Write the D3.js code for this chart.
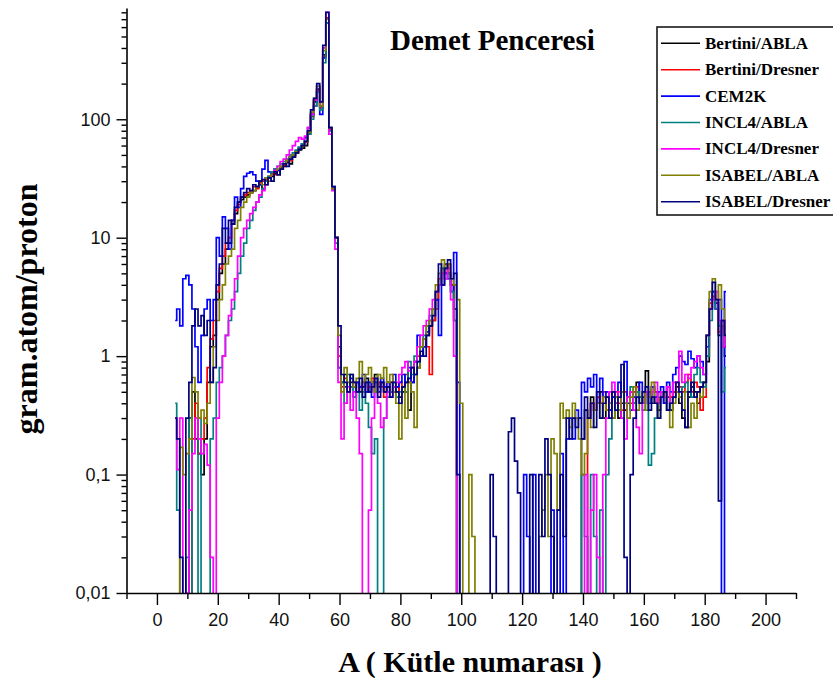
<!DOCTYPE html>
<html><head><meta charset="utf-8">
<script src="https://cdn.jsdelivr.net/npm/d3@7/dist/d3.min.js"></script>
<style>
body{margin:0;background:#fff}
svg{display:block}
.tick text{font-family:"Liberation Sans",Arial,sans-serif;font-size:18px;fill:#111}
</style>
</head><body>
<svg id="chart" width="833" height="690"></svg>
<script>
// Mass numbers A = 6 .. 187 (one value per A)
const firstA = 6;
const seriesNames = ["Bertini/ABLA","Bertini/Dresner","CEM2K","INCL4/ABLA","INCL4/Dresner","ISABEL/ABLA","ISABEL/Dresner"];
const seriesColors = ["#000000","#ff0000","#0000ff","#008080","#ff00ff","#808000","#000080"];
const xTickValues = [0,20,40,60,80,100,120,140,160,180,200];
const xMinorTicks = [-10,10,30,50,70,90,110,130,150,170,190,210];
const yTickValues = [0.01,0.1,1,10,100];
const yTickLabels = ["0,01","0,1","1","10","100"];

const bertiniABLA = [
 0,0,0,0,0,0.3,0.5,0.2,0.15,0.1,
 0.2,0.6,1.2,1.5,3,5,6,8,9,13,
 16,20,21,22,23,24,25,27,28,26,
 30,32,33,35,34,38,40,43,42,48,
 52,55,57,60,75,110,140,180,130,350,
 700,80,26,10,1.2,0.6,0.7,0.5,0.6,0.55,
 0.6,0.5,0.55,0.65,0.5,0.6,0.7,0.55,0.6,0.5,
 0.55,0.6,0.5,0.55,0.45,0.5,0.6,0.35,0.6,0.7,
 0.8,1.0,1.2,1.5,1.8,2.0,3.0,4.0,5.0,6.0,
 5.0,4.0,2.5,0,0,0,0,0,0,0,
 0,0,0,0,0,0,0,0,0,0,
 0,0,0,0,0,0,0,0,0,0,
 0,0,0,0,0,0,0,0,0,0,
 0,0,0,0,0.2,0.35,0.3,0.45,0.35,0.4,
 0.5,0.3,0.45,0.35,0.5,0.45,0.3,0.4,0.35,0.45,
 0.5,0.4,0.6,0.4,0.45,0.75,0.5,0.4,0.45,0.35,
 0.5,0.4,0.45,0.35,0.5,0.55,0.4,0.3,0.25,0.45,
 0.55,0.5,0.4,0.55,0.6,0.9,2.5,3.5,2.8,1.5,
 2.0,1.0];

const bertiniDresner = [
 0,0,0,0,0,0,0.2,0.4,0.15,0.2,
 0.3,0.8,1.4,2,3.5,5.5,7,9,10,14,
 17,19,22,23,24,25,27,26,29,30,
 31,33,35,34,37,39,41,44,45,50,
 53,56,60,64,78,105,145,175,125,340,
 720,82,26,10,1.0,0.55,0.65,0.5,0.55,0.6,
 0.5,0.55,0.6,0.5,0.55,0.65,0.5,0.6,0.55,0.45,
 0.6,0.5,0.55,0.5,0.6,0.55,0.7,0.6,0.8,0.9,
 1.0,1.2,1.4,1.2,0.7,2.0,2.5,4.5,5.5,5.0,
 6.0,4.0,2.0,0,0,0,0,0,0,0,
 0,0,0,0,0,0,0,0,0,0,
 0,0,0,0,0,0,0,0,0,0,
 0,0,0,0,0,0,0,0,0,0,
 0,0,0,0,0,0,0.3,0.4,0.35,0.45,
 0.4,0.5,0.35,0.4,0.45,0.5,0.4,0.35,0.5,0.45,
 0.4,0.5,0.55,0.45,0.4,0.5,0.45,0.55,0.5,0.4,
 0.45,0.5,0.55,0.45,0.5,0.6,0.55,0.5,0.6,0.7,
 0.5,0.6,0.55,0.35,0.45,1.0,2.8,3.2,2.5,1.6,
 1.8,1.2];

const cem2k = [
 2.0,2.5,1.8,4.5,4.8,4.0,2.5,1.2,0.6,1.5,
 2.5,3.0,2.0,3.0,10,7,15,12,8,14,
 22,18,26,33,35,36,34,30,28,38,
 45,36,34,38,37,40,42,45,48,50,
 54,58,62,70,85,110,130,170,110,330,
 650,85,27,10,0.8,0.6,0.55,0.5,0.65,0.45,
 0.6,0.55,0.7,0.5,0.6,0.45,0.6,0.5,0.65,0.55,
 0.6,0.5,0.7,0.55,0.6,0.7,0.5,0.8,0.6,0.9,
 1.5,1.0,1.2,1.6,2.0,2.5,3.0,1.5,4.0,5.0,
 4.5,3.5,7.5,0.6,0,0,0,0,0,0,
 0,0,0,0,0,0,0,0,0,0,
 0,0,0,0,0,0.1,0.03,0,0.1,0,
 0,0,0,0,0.05,0,0,0.15,0,0.2,
 0.3,0.2,0.35,0.3,0.6,0.5,0.65,0.55,0.7,0.4,
 0.65,0.45,0.5,0.35,0.45,0.4,0.6,0.5,0.9,0.4,
 0.35,0.45,0.5,0.6,0.4,0.5,0.4,0.55,0.45,0.5,
 0.55,0.4,0.6,0.5,0.7,0.8,1.0,0.9,0.85,1.1,
 0.95,0.8,1.0,0.9,0.7,1.2,3.0,3.5,2.5,3.0,
 0,3.5];

const incl4ABLA = [
 0.4,0.05,0,0,0.02,0.3,0,0,0.3,0,
 0,0,0.2,0.3,0.6,0.8,1.0,1.5,2.0,2.5,
 3.5,5,7,9,12,14,17,20,22,26,
 30,33,36,38,40,42,44,46,50,52,
 55,58,62,65,75,100,130,170,120,300,
 650,80,26,9,0.8,0.6,0.4,0.7,0.55,0.45,
 0.5,0.35,0.5,0.4,0.25,0.15,0.2,0,0,0.3,
 0.45,0.5,0.6,0.45,0.5,0.55,0.5,0.9,0.7,1.0,
 0.9,1.2,1.5,1.8,2.2,2.5,3.5,4.0,5.5,4.5,
 5.0,3.5,2.0,0,0,0,0,0,0,0,
 0,0,0,0,0,0,0,0,0,0,
 0,0,0,0,0,0,0,0,0,0,
 0,0,0,0,0,0,0,0,0,0,
 0,0,0,0,0.1,0.03,0,0.1,0.03,0,
 0.05,0,0.1,0.2,0.3,0.4,0.35,0.5,0.4,0.45,
 0.55,0.4,0.5,0.45,0.35,0.5,0.12,0.15,0.3,0.4,
 0.45,0.5,0.35,0.4,0.45,0.5,0.45,0.55,0.6,0.5,
 0.45,0.7,0.8,0.6,0.55,1.0,2.0,3.0,2.5,1.8,
 0.5,0.8];

const incl4Dresner = [
 0.3,0.11,0.3,0,0.01,0.05,0.15,0.3,0.2,0.15,
 0.18,0.12,0.02,0,0.3,0.6,1.0,1.5,2.2,3.0,
 4.5,7,10,12,14,16,18,20,23,25,
 28,32,34,37,40,44,46,50,55,60,
 65,70,68,72,85,110,145,190,130,400,
 800,75,25,8,0.6,0.2,0.4,0.55,0.35,0.5,
 0.3,0.15,0,0,0.05,0.3,0.5,0.4,0.25,0.3,
 0.5,0.45,0.55,0.6,0.7,0.8,0.9,0.75,0.8,0.9,
 1.2,1.5,1.8,2.0,2.5,3.0,3.5,4.0,5.0,4.5,
 5.5,3.0,1.0,0,0,0,0,0,0,0,
 0,0,0,0,0,0,0,0,0,0,
 0,0,0,0,0,0,0,0,0,0,
 0,0,0,0,0,0,0,0,0,0,
 0,0,0,0,0,0.1,0,0.05,0.1,0.02,
 0,0.1,0.3,0.5,0.6,0.4,0.5,0.3,0.2,0.45,
 0.5,0.35,0.25,0.15,0.4,0.5,0.45,0.5,0.6,0.4,
 0.5,0.45,0.55,0.4,0.6,0.5,1.1,0.6,0.7,0.65,
 0.8,0.9,1.0,0.8,0.7,1.5,2.5,3.0,3.5,2.0,
 1.2,2.0];

const isabelABLA = [
 0,0,0.17,0.1,0.15,0.2,0.66,0.5,0.3,0.35,
 0.27,0.4,0.6,1.2,2,3,4,6,7,8,
 12,14,18,20,22,24,25,27,30,28,
 32,30,34,36,38,40,42,45,48,50,
 53,56,60,65,78,115,150,190,130,380,
 700,85,26,10,1.5,0.5,0.8,0.6,0.7,0.55,
 0.65,0.9,0.6,0.7,0.8,0.6,0.5,0.7,0.65,0.8,
 0.6,0.7,0.5,0.4,0.2,0.55,0.3,0.6,0.5,0.25,
 0.8,1.2,1.4,1.8,2.0,2.5,4.0,5.0,6.5,5.5,
 6.0,4.5,4.0,3.0,0.4,0,0,0.1,0.03,0,
 0,0,0,0,0,0,0,0,0,0,
 0,0,0,0,0,0,0,0,0,0,
 0.03,0.05,0.1,0.03,0.2,0.15,0.05,0.4,0.3,0.35,
 0.25,0.4,0.3,0.2,0.1,0.15,0.3,0.25,0.35,0.4,
 0.3,0.45,0.35,0.4,0.3,0.45,0.35,0.5,0.4,0.3,
 0.45,0.55,0.35,0.4,0.5,0.35,0.45,0.6,0.4,0.3,
 0.45,0.5,0.35,0.25,0.4,0.5,0.45,0.35,0.5,0.25,
 0.4,0.3,0.5,0.45,0.6,1.5,3.5,4.5,3.0,4.0,
 2.5,1.5];

const isabelDresner = [
 0.3,0.2,0.02,0,0.3,0.6,1.8,2.5,1.8,2.2,
 1.5,2.0,0.6,0.8,4,6,12,9,14,13,
 18,20,22,24,26,25,28,27,30,31,
 28,32,30,36,34,38,42,40,46,48,
 52,56,60,65,80,120,150,200,140,420,
 800,85,27,10,1.8,0.7,0.6,0.5,0.7,0.6,
 0.5,0.65,0.45,0.6,0.5,0.55,0.65,0.45,0.6,0.5,
 0.55,0.45,0.6,0.5,0.4,0.55,0.6,0.65,0.8,0.7,
 0.9,1.1,1.0,1.5,1.8,2.2,3.5,6.0,4.0,5.5,
 6.5,4.5,5.0,0.1,0,0,0,0,0,0,
 0,0,0,0,0.1,0.03,0,0,0,0,
 0.23,0.3,0.13,0.07,0,0,0,0.1,0,0,
 0.1,0.03,0.2,0.1,0.03,0,0.05,0.1,0.03,0.3,
 0.2,0.3,0.25,0.3,0.2,0.45,0.3,0.4,0.25,0.5,
 0.3,0.4,0.45,0.3,0.5,0.35,0.45,0.85,0.02,0,
 0.1,0.3,0.45,0.4,0.5,0.55,0.35,0.45,0.4,0.3,
 0.45,0.5,0.35,0.4,0.45,0.6,0.5,0.35,0.25,0.5,
 0.6,0.45,0.5,0.55,0.6,1.5,2.5,4.2,3.0,0.06,
 2.0,1.5];

const seriesValues = [bertiniABLA, bertiniDresner, cem2k, incl4ABLA, incl4Dresner, isabelABLA, isabelDresner];

const SERIF = "'Liberation Serif', 'Times New Roman', Times, 'DejaVu Serif', serif";

const svg = d3.select("#chart");
const x = d3.scaleLinear().domain([-10, 210]).range([126.5, 796]);
const y = d3.scaleLog().domain([0.01, 870]).range([593, 8]);

svg.append("defs").append("clipPath").attr("id","plotclip")
  .append("rect").attr("x", x(-10)).attr("y", 0).attr("width", x(210)-x(-10)).attr("height", y(0.01));

const line = d3.line()
  .x(d => x(d.a))
  .y(d => y(d.v > 0 ? d.v : 0.008))
  .curve(d3.curveStep);

const plot = svg.append("g").attr("clip-path","url(#plotclip)");
seriesValues.forEach((vals, i) => {
  const pts = vals.map((v, k) => ({a: firstA + k, v: v}));
  plot.append("path").datum(pts)
    .attr("fill","none").attr("stroke", seriesColors[i])
    .attr("stroke-width", 1.7).attr("stroke-linejoin","miter")
    .attr("d", line);
});

// axes
svg.append("g").attr("transform", `translate(0,${y(0.01)})`)
  .call(d3.axisBottom(x).tickValues(xTickValues).tickFormat(d3.format("d")).tickSize(12).tickSizeOuter(0).tickPadding(8));
svg.append("g").attr("transform", `translate(0,${y(0.01)})`)
  .call(d3.axisBottom(x).tickValues(xMinorTicks).tickFormat("").tickSize(6).tickSizeOuter(0))
  .select(".domain").remove();

const yMinor = [];
[0.01,0.1,1,10,100].forEach(dec => { for (let m = 2; m <= 9; m++) { const v = dec*m; if (v <= 870) yMinor.push(v); } });
svg.append("g").attr("transform", `translate(${x(-10)},0)`)
  .call(d3.axisLeft(y).tickValues(yMinor).tickFormat("").tickSize(5).tickSizeOuter(0))
  .select(".domain").remove();
svg.append("g").attr("transform", `translate(${x(-10)},0)`)
  .call(d3.axisLeft(y).tickValues(yTickValues).tickFormat((d,i) => yTickLabels[i]).tickSize(10).tickSizeOuter(0).tickPadding(6));

svg.selectAll(".domain").attr("stroke","#000").attr("stroke-width",1.6);
svg.selectAll(".tick line").attr("stroke","#000").attr("stroke-width",1.4);

function serifText(sel) {
  return sel.attr("font-family", SERIF).attr("font-weight","bold").attr("fill","#000");
}

// title
svg.append("text").call(serifText).attr("x",390).attr("y",50)
  .attr("font-size",29).text("Demet Penceresi");

// axis titles
svg.append("text").call(serifText).attr("text-anchor","middle")
  .attr("transform","translate(37,309) rotate(-90)").attr("font-size",32)
  .text("gram.atom/proton");
svg.append("text").call(serifText).attr("text-anchor","middle")
  .attr("x",470).attr("y",672).attr("font-size",30)
  .text("A ( Kütle numarası )");

// legend
const lg = svg.append("g");
lg.append("rect").attr("x",657).attr("y",27).attr("width",220).attr("height",188)
  .attr("fill","#fff").attr("stroke","#1a1a1a").attr("stroke-width",1.6);
seriesNames.forEach((name, i) => {
  const yy = 43.3 + i*26.4;
  lg.append("line").attr("x1",661).attr("x2",700).attr("y1",yy).attr("y2",yy)
    .attr("stroke",seriesColors[i]).attr("stroke-width",1.6);
  lg.append("text").call(serifText).attr("x",705).attr("y",yy+5.5)
    .attr("font-size",17).text(name);
});
</script>
</body></html>
